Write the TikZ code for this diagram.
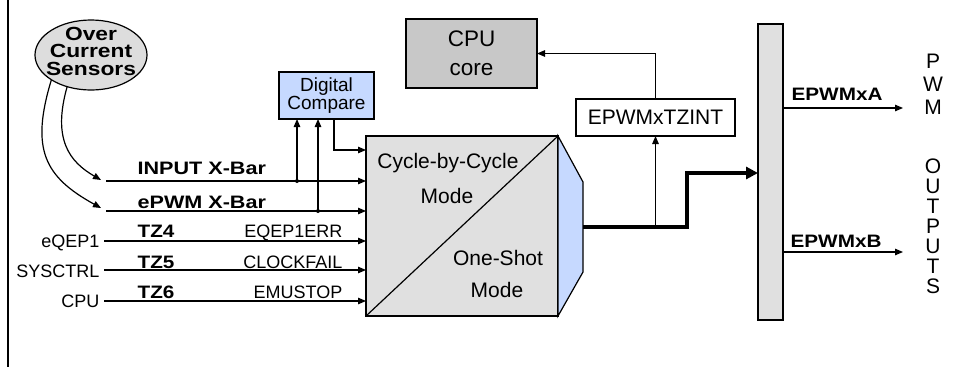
\documentclass[tikz,border=0pt]{standalone}
\usepackage{fontspec}
\setmainfont{Liberation Sans}
\usepackage{graphicx}
\usetikzlibrary{arrows.meta,shapes.geometric}
\definecolor{lgray}{HTML}{E0E0E0}
\definecolor{egray}{HTML}{DDDDDD}
\definecolor{cgray}{HTML}{C8C8C8}
\definecolor{lblue}{HTML}{C6D9FF}
\newcommand{\wb}[1]{\scalebox{1.2}[1]{#1}}
\begin{document}
\begin{tikzpicture}[x=1pt,y=-1pt,line width=1.2pt,
  arr/.style={-{Triangle[length=8pt,width=6.5pt]}},
  thickarr/.style={line width=3.2pt,-{Triangle[length=12pt,width=12pt]}},
  box/.style={draw,inner sep=0pt,outer sep=0pt,line width=1.2pt},
  lbl/.style={inner sep=0pt,font=\fontsize{18}{20}\selectfont},
  blbl/.style={inner sep=0pt,font=\fontsize{18}{20}\selectfont\bfseries},
  mtxt/.style={inner sep=0pt,font=\fontsize{21}{24}\selectfont},
]
\useasboundingbox (0,0) rectangle (965,367);
\draw[line width=2pt] (8,0) -- (8,367);

% ellipse
\node[box,ellipse,fill=egray,minimum width=112pt,minimum height=70pt] (oc) at (91,55) {};
\node[inner sep=0pt,align=center,font=\fontsize{19}{17.5}\selectfont\bfseries] (octxt) at (91,51)
  {\wb{Over}\\\wb{Current}\\\wb{Sensors}};

% digital compare
\node[box,fill=lblue,minimum width=95pt,minimum height=47pt,align=center,
  font=\fontsize{19}{16}\selectfont] (dc) at (326.5,95.5) {Digital\\Compare};

% main box
\node[box,fill=lgray,minimum width=192pt,minimum height=180pt] (main) at (462,226) {};
\draw (main.south west) -- (main.north east);
\draw[fill=lblue] (main.north east) -- (583,182) -- (583,272) -- (main.south east) -- cycle;
\node[mtxt,anchor=base] (cbc) at (448,168) {Cycle-by-Cycle};
\node[mtxt,anchor=base] (cbcm) at (447,203) {Mode};
\node[mtxt,anchor=base] (os) at (498,265) {One-Shot};
\node[mtxt,anchor=base] (osm) at (497,297) {Mode};

% CPU core
\node[box,fill=cgray,minimum width=131pt,minimum height=69pt,align=center,
  font=\fontsize{22.5}{29}\selectfont] (cpu) at (471.5,53.5) {CPU\\core};

% TZINT
\node[box,fill=white,minimum width=159pt,minimum height=37pt,
  font=\fontsize{21}{24}\selectfont] (tz) at (655.5,117.5) {EPWMxTZINT};

% bar
\node[box,fill=lgray,minimum width=25pt,minimum height=296pt] (bar) at (770.5,172) {};

% left labels
\node[lbl,anchor=base east] (eq) at (100,247) {eQEP1};
\node[lbl,anchor=base east] (sys) at (100,277) {SYSCTRL};
\node[lbl,anchor=base east] (cpul) at (100,307) {CPU};

\node[blbl,anchor=base west] (tin) at (137,174) {\wb{INPUT X-Bar}};
\node[blbl,anchor=base west] (tpw) at (137,208) {\wb{ePWM X-Bar}};
\node[blbl,anchor=base west] (tz4) at (137,237) {\scalebox{1.15}[1]{TZ4}};
\node[blbl,anchor=base west] (tz5) at (137,268) {\scalebox{1.15}[1]{TZ5}};
\node[blbl,anchor=base west] (tz6) at (137,298) {\scalebox{1.15}[1]{TZ6}};
\node[lbl,anchor=base east] (r4) at (343,237) {EQEP1ERR};
\node[lbl,anchor=base east] (r5) at (343,268) {CLOCKFAIL};
\node[lbl,anchor=base east] (r6) at (343,298) {EMUSTOP};

% input lines
\coordinate (s1) at (106,181);
\coordinate (s2) at (106,211);
\coordinate (s3) at (104,241);
\coordinate (s4) at (104,270);
\coordinate (s5) at (104,301);
\foreach \s in {s1,s2,s3,s4,s5} \draw[arr] (\s) -- (\s -| main.west);

% sensor curves
\coordinate (e1) at (101,180);
\coordinate (e2) at (101,208);
\draw[arr] (oc.233) .. controls (52,140) and (70,162) .. (e1);
\draw[arr] (oc.212) .. controls (30,150) and (45,177) .. (e2);

% digital compare links
\coordinate (j1) at (297,181);
\coordinate (j2) at (318,211);
\fill (j1) circle (2pt);
\fill (j2) circle (2pt);
\draw[arr] (j1) -- (j1 |- dc.south);
\draw[arr] (j2) -- (j2 |- dc.south);
\draw[arr] (dc.south -| 334,0) |- (main.west |- 0,150);

% output
\coordinate (tout) at (583,227);
\draw[thickarr] (tout) -- (687,227) -- (687,173) -- (bar.west |- 0,173);
\draw[arr] (tz.south |- tout) -- (tz.south);
\draw[arr] (tz.north) |- (cpu.east);

% outputs
\coordinate (oa) at (903,108);
\coordinate (ob) at (903,252);
\draw[arr] (oa -| bar.east) -- (oa);
\draw[arr] (ob -| bar.east) -- (ob);
\node[blbl,anchor=base west] (la) at (791,100) {\scalebox{1.15}[1]{EPWMxA}};
\node[blbl,anchor=base west] (lb) at (790,247) {\scalebox{1.15}[1]{EPWMxB}};

\begin{scope}[every node/.style={inner sep=0pt,anchor=base,font=\fontsize{21}{24}\selectfont}]
\node (p1) at (933,68) {P};
\node (p2) at (933,91) {W};
\node (p3) at (933,114) {M};
\foreach \l [count=\i] in {O,U,T,P,U,T,S}
  \node (o\i) at (933,153+20*\i) {\l};
\end{scope}
\end{tikzpicture}
\end{document}
